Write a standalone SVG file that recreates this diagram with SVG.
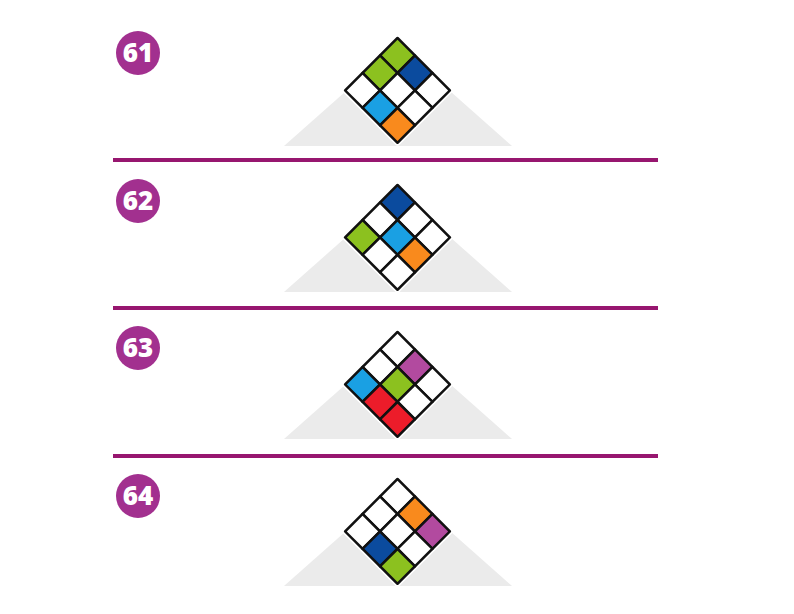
<svg xmlns="http://www.w3.org/2000/svg" width="794" height="614" viewBox="0 0 794 614">
<style>
.tri{fill:#ebebeb}
.sep{stroke:#97166f;stroke-width:4}
.badge{fill:#a2308f}
.num{fill:#fff;font-family:"Open Sans","Liberation Sans",sans-serif;font-weight:800;font-size:26px;text-anchor:middle}
.halo{fill:#fff;stroke:#fff;stroke-width:6;stroke-linejoin:round}
.c{stroke:#111;stroke-width:2.5;stroke-linejoin:round}
.w{fill:#fff}.g{fill:#8cc11f}.db{fill:#0b4b9e}.lb{fill:#1aa0e3}.o{fill:#f98a1d}.p{fill:#b24a9f}.r{fill:#ec1c2a}
</style>
<defs>
<g id="board">
<rect class="halo" x="0" y="0" width="74" height="74"/>
</g>
</defs>
<rect width="794" height="614" fill="#fff"/>
<g id="connectors">
<line class="sep" x1="113" y1="160" x2="658" y2="160"/>
<line class="sep" x1="113" y1="308" x2="658" y2="308"/>
<line class="sep" x1="113" y1="456" x2="658" y2="456"/>
</g>
<g id="p61">
<circle class="badge" cx="138" cy="53" r="22"/>
<text class="num" x="138" y="62">61</text>
<polygon class="tri" points="284,146 512,146 398,45"/>
<g transform="translate(397.5,38) rotate(45)">
<use href="#board"/>
<rect class="c g" x="0" y="0" width="24.7" height="24.7"/>
<rect class="c db" x="24.7" y="0" width="24.7" height="24.7"/>
<rect class="c w" x="49.4" y="0" width="24.7" height="24.7"/>
<rect class="c g" x="0" y="24.7" width="24.7" height="24.7"/>
<rect class="c w" x="24.7" y="24.7" width="24.7" height="24.7"/>
<rect class="c w" x="49.4" y="24.7" width="24.7" height="24.7"/>
<rect class="c w" x="0" y="49.4" width="24.7" height="24.7"/>
<rect class="c lb" x="24.7" y="49.4" width="24.7" height="24.7"/>
<rect class="c o" x="49.4" y="49.4" width="24.7" height="24.7"/>
</g>
</g>
<g id="p62">
<circle class="badge" cx="138" cy="201" r="22"/>
<text class="num" x="138" y="210">62</text>
<polygon class="tri" points="284,292 512,292 398,191"/>
<g transform="translate(397.5,185) rotate(45)">
<use href="#board"/>
<rect class="c db" x="0" y="0" width="24.7" height="24.7"/>
<rect class="c w" x="24.7" y="0" width="24.7" height="24.7"/>
<rect class="c w" x="49.4" y="0" width="24.7" height="24.7"/>
<rect class="c w" x="0" y="24.7" width="24.7" height="24.7"/>
<rect class="c lb" x="24.7" y="24.7" width="24.7" height="24.7"/>
<rect class="c o" x="49.4" y="24.7" width="24.7" height="24.7"/>
<rect class="c g" x="0" y="49.4" width="24.7" height="24.7"/>
<rect class="c w" x="24.7" y="49.4" width="24.7" height="24.7"/>
<rect class="c w" x="49.4" y="49.4" width="24.7" height="24.7"/>
</g>
</g>
<g id="p63">
<circle class="badge" cx="138" cy="348" r="22"/>
<text class="num" x="138" y="357">63</text>
<polygon class="tri" points="284,439 512,439 398,338"/>
<g transform="translate(397.5,332) rotate(45)">
<use href="#board"/>
<rect class="c w" x="0" y="0" width="24.7" height="24.7"/>
<rect class="c p" x="24.7" y="0" width="24.7" height="24.7"/>
<rect class="c w" x="49.4" y="0" width="24.7" height="24.7"/>
<rect class="c w" x="0" y="24.7" width="24.7" height="24.7"/>
<rect class="c g" x="24.7" y="24.7" width="24.7" height="24.7"/>
<rect class="c w" x="49.4" y="24.7" width="24.7" height="24.7"/>
<rect class="c lb" x="0" y="49.4" width="24.7" height="24.7"/>
<rect class="c r" x="24.7" y="49.4" width="24.7" height="24.7"/>
<rect class="c r" x="49.4" y="49.4" width="24.7" height="24.7"/>
</g>
</g>
<g id="p64">
<circle class="badge" cx="138" cy="496" r="22"/>
<text class="num" x="138" y="505">64</text>
<polygon class="tri" points="284,586 512,586 398,485"/>
<g transform="translate(397.5,479) rotate(45)">
<use href="#board"/>
<rect class="c w" x="0" y="0" width="24.7" height="24.7"/>
<rect class="c o" x="24.7" y="0" width="24.7" height="24.7"/>
<rect class="c p" x="49.4" y="0" width="24.7" height="24.7"/>
<rect class="c w" x="0" y="24.7" width="24.7" height="24.7"/>
<rect class="c w" x="24.7" y="24.7" width="24.7" height="24.7"/>
<rect class="c w" x="49.4" y="24.7" width="24.7" height="24.7"/>
<rect class="c w" x="0" y="49.4" width="24.7" height="24.7"/>
<rect class="c db" x="24.7" y="49.4" width="24.7" height="24.7"/>
<rect class="c g" x="49.4" y="49.4" width="24.7" height="24.7"/>
</g>
</g>
</svg>
